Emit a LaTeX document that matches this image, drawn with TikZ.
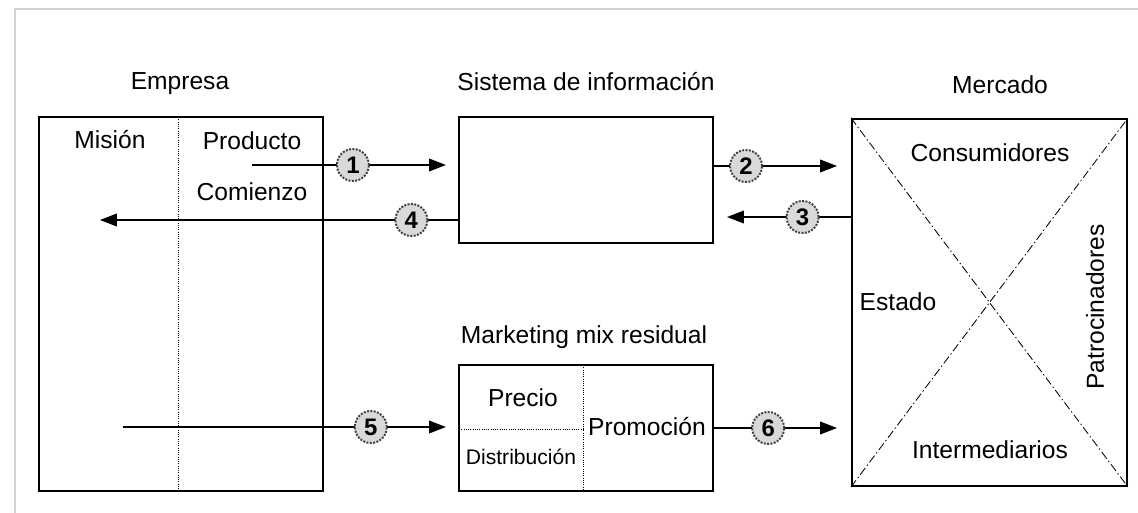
\documentclass[tikz,border=0pt]{standalone}
\usepackage{fontspec}
\setmainfont{Liberation Sans}
\usetikzlibrary{arrows.meta}

\begin{document}
\begin{tikzpicture}[x=0.025cm,y=-0.025cm,
    box/.style={draw,line width=1.5pt,inner sep=0pt},
    flow/.style={-{Triangle[length=12pt,width=9pt]},line width=1pt},
    num/.style={circle,draw=black!75,densely dotted,line width=1.4pt,fill=gray!30,minimum size=0.8cm,inner sep=0pt,font=\fontsize{17}{17}\selectfont\bfseries},
    sep/.style={densely dotted,line width=0.6pt},
    lbl/.style={font=\fontsize{17.5}{20}\selectfont}]
    \useasboundingbox (0,0) rectangle (1138,513);
    \draw[gray!35,line width=1.5pt] (15,513) -- (15,9) -- (1138,9);

    % Empresa
    \node[lbl] (temp) at (180,84) {Empresa};
    \node[box,minimum width=7.1cm,minimum height=9.35cm] (emp) at (181,304) {};
    \draw[sep] (178,117) -- (178,491);
    \node[lbl] (mis) at (110,140) {Misión};
    \node[lbl] (prod) at (252,141) {Producto};
    \node[lbl] (com) at (252,192) {Comienzo};

    % Sistema de informacion
    \node[lbl] (tsi) at (586,82) {Sistema de información};
    \node[box,minimum width=6.35cm,minimum height=3.15cm] (si) at (586,180) {};

    % Marketing mix residual
    \node[lbl] (tmm) at (584,337) {Marketing mix residual};
    \node[box,minimum width=6.35cm,minimum height=3.15cm] (mm) at (586,428) {};
    \draw[sep] (583,365) -- (583,491);
    \draw[sep] (459,429) -- (583,429);
    \node[lbl] (pre) at (523,398) {Precio};
    \node[font=\fontsize{15}{17}\selectfont] (dis) at (521,457) {Distribución};
    \node[lbl] (pro) at (647,427) {Promoción};

    % Mercado
    \node[lbl] (tmer) at (1000,85) {Mercado};
    \node[box,minimum width=6.875cm,minimum height=9.175cm] (mer) at (989.5,302.5) {};
    \draw[dash pattern=on 6pt off 2pt on 1pt off 2pt,line width=0.6pt] (mer.north west) -- (mer.south east);
    \draw[dash pattern=on 6pt off 2pt on 1pt off 2pt,line width=0.6pt] (mer.south west) -- (mer.north east);
    \node[lbl] (con) at (990,153) {Consumidores};
    \node[lbl] (est) at (898,302) {Estado};
    \node[lbl] (int) at (990,450) {Intermediarios};
    \node[lbl,rotate=90] (pat) at (1095,307) {Patrocinadores};

    % flujos
    \coordinate (a1) at (252,165);
    \coordinate (a2) at (837,166);
    \coordinate (a3) at (727,217);
    \coordinate (a4) at (100,220);
    \coordinate (a5) at (123,427);
    \coordinate (a6) at (837,428);
    \draw[flow,shorten >=0.3cm] (a1) -- (si.west |- a1) node[num,pos=.49] {1};
    \draw[flow] (si.east |- a2) -- (a2) node[num,pos=.26] {2};
    \draw[flow] (mer.west |- a3) -- (a3) node[num,pos=.39] {3};
    \draw[flow] (si.west |- a4) -- (a4) node[num,pos=.13] {4};
    \draw[flow,shorten >=0.3cm] (a5) -- (mm.west |- a5) node[num,pos=.74] {5};
    \draw[flow] (mm.east |- a6) -- (a6) node[num,pos=.44] {6};
\end{tikzpicture}
\end{document}
